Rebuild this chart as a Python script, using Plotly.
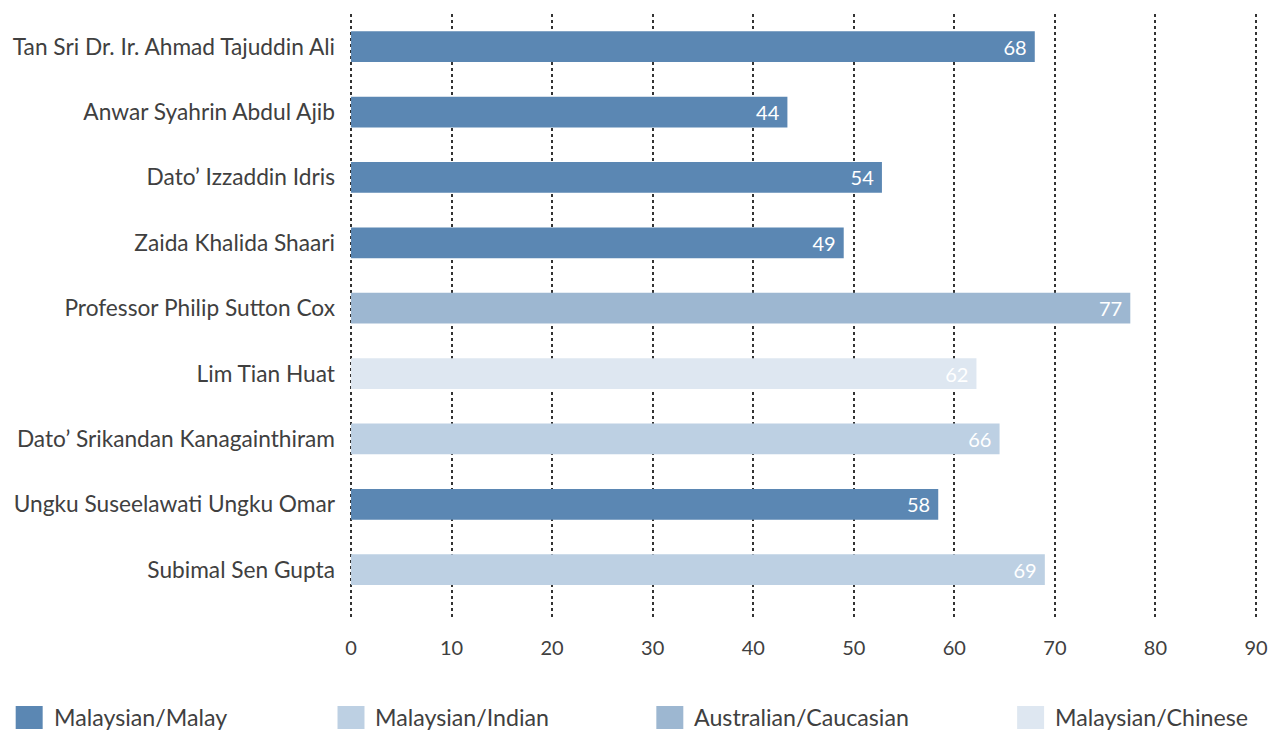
import plotly.graph_objects as go

names = [
    "Tan Sri Dr. Ir. Ahmad Tajuddin Ali",
    "Anwar Syahrin Abdul Ajib",
    "Dato’ Izzaddin Idris",
    "Zaida Khalida Shaari",
    "Professor Philip Sutton Cox",
    "Lim Tian Huat",
    "Dato’ Srikandan Kanagainthiram",
    "Ungku Suseelawati Ungku Omar",
    "Subimal Sen Gupta",
]
bar_values = [68, 43.4, 52.8, 49, 77.5, 62.2, 64.5, 58.4, 69]
age_labels = ["68", "44", "54", "49", "77", "62", "66", "58", "69"]
groups = [
    "Malaysian/Malay", "Malaysian/Malay", "Malaysian/Malay", "Malaysian/Malay",
    "Australian/Caucasian", "Malaysian/Chinese", "Malaysian/Indian",
    "Malaysian/Malay", "Malaysian/Indian",
]
group_order = ["Malaysian/Malay", "Malaysian/Indian", "Australian/Caucasian", "Malaysian/Chinese"]
group_colors = {
    "Malaysian/Malay": "#5b87b3",
    "Malaysian/Indian": "#bdd0e3",
    "Australian/Caucasian": "#9db7d1",
    "Malaysian/Chinese": "#dee7f1",
}
x_ticks = [0, 10, 20, 30, 40, 50, 60, 70, 80, 90]

FONT = "Lato"
TXT = "#404040"

W, H = 1272, 730
plot_l, plot_w = 349.5, 907.5
plot_t, plot_h = 14, 606

fig = go.Figure()
for g in group_order:
    idx = [i for i, gg in enumerate(groups) if gg == g]
    fig.add_trace(go.Bar(
        orientation="h",
        y=[names[i] for i in idx],
        x=[bar_values[i] for i in idx],
        text=[age_labels[i] + "\u00a0" for i in idx],
        textposition="inside",
        insidetextanchor="end",
        textfont=dict(family=FONT, size=20, color="white"),
        marker=dict(color=group_colors[g], line=dict(width=0)),
        width=0.47,
        name=g,
        showlegend=False,
    ))

# legend drawn as large square swatches + real text
legend_px = [15, 337, 656, 1017]
for g, px in zip(group_order, legend_px):
    x0 = (px - plot_l) / plot_w
    x1 = (px + 27 - plot_l) / plot_w
    y_top = (plot_t + plot_h - 706) / plot_h
    y_bot = (plot_t + plot_h - 729) / plot_h
    fig.add_shape(type="rect", xref="paper", yref="paper", x0=x0, x1=x1,
                  y0=y_bot, y1=y_top, fillcolor=group_colors[g], line=dict(width=0))
    fig.add_annotation(xref="paper", yref="paper", x=(px + 36 - plot_l) / plot_w,
                       y=(plot_t + plot_h - 717) / plot_h, text=g, showarrow=False,
                       xanchor="left", yanchor="middle",
                       font=dict(family=FONT, size=23.2, color=TXT))

fig.update_layout(
    width=W, height=H,
    margin=dict(l=plot_l, r=W - plot_l - plot_w, t=plot_t, b=H - plot_t - plot_h, autoexpand=False),
    paper_bgcolor="white", plot_bgcolor="white",
    barmode="overlay",
    font=dict(family=FONT, size=20, color=TXT),
)
fig.update_xaxes(
    range=[-0.1, 90.1], tickvals=x_ticks, ticktext=[str(t) for t in x_ticks],
    showgrid=True, gridcolor="#333333", gridwidth=2, griddash="dot",
    zeroline=False, showline=False, automargin=False,
    ticks="outside", ticklen=10, tickcolor="rgba(0,0,0,0)",
    ticklabeloverflow="allow",
    tickfont=dict(family=FONT, size=20, color=TXT),
)
fig.update_yaxes(
    categoryorder="array", categoryarray=names,
    range=[8.77, -0.5], showgrid=False, zeroline=False, showline=False,
    automargin=False, ticklabelstandoff=14,
    tickfont=dict(family=FONT, size=22.7, color=TXT),
)
fig.write_html("out.html", config={"displayModeBar": False},
               post_script="document.body.style.margin='0';")
